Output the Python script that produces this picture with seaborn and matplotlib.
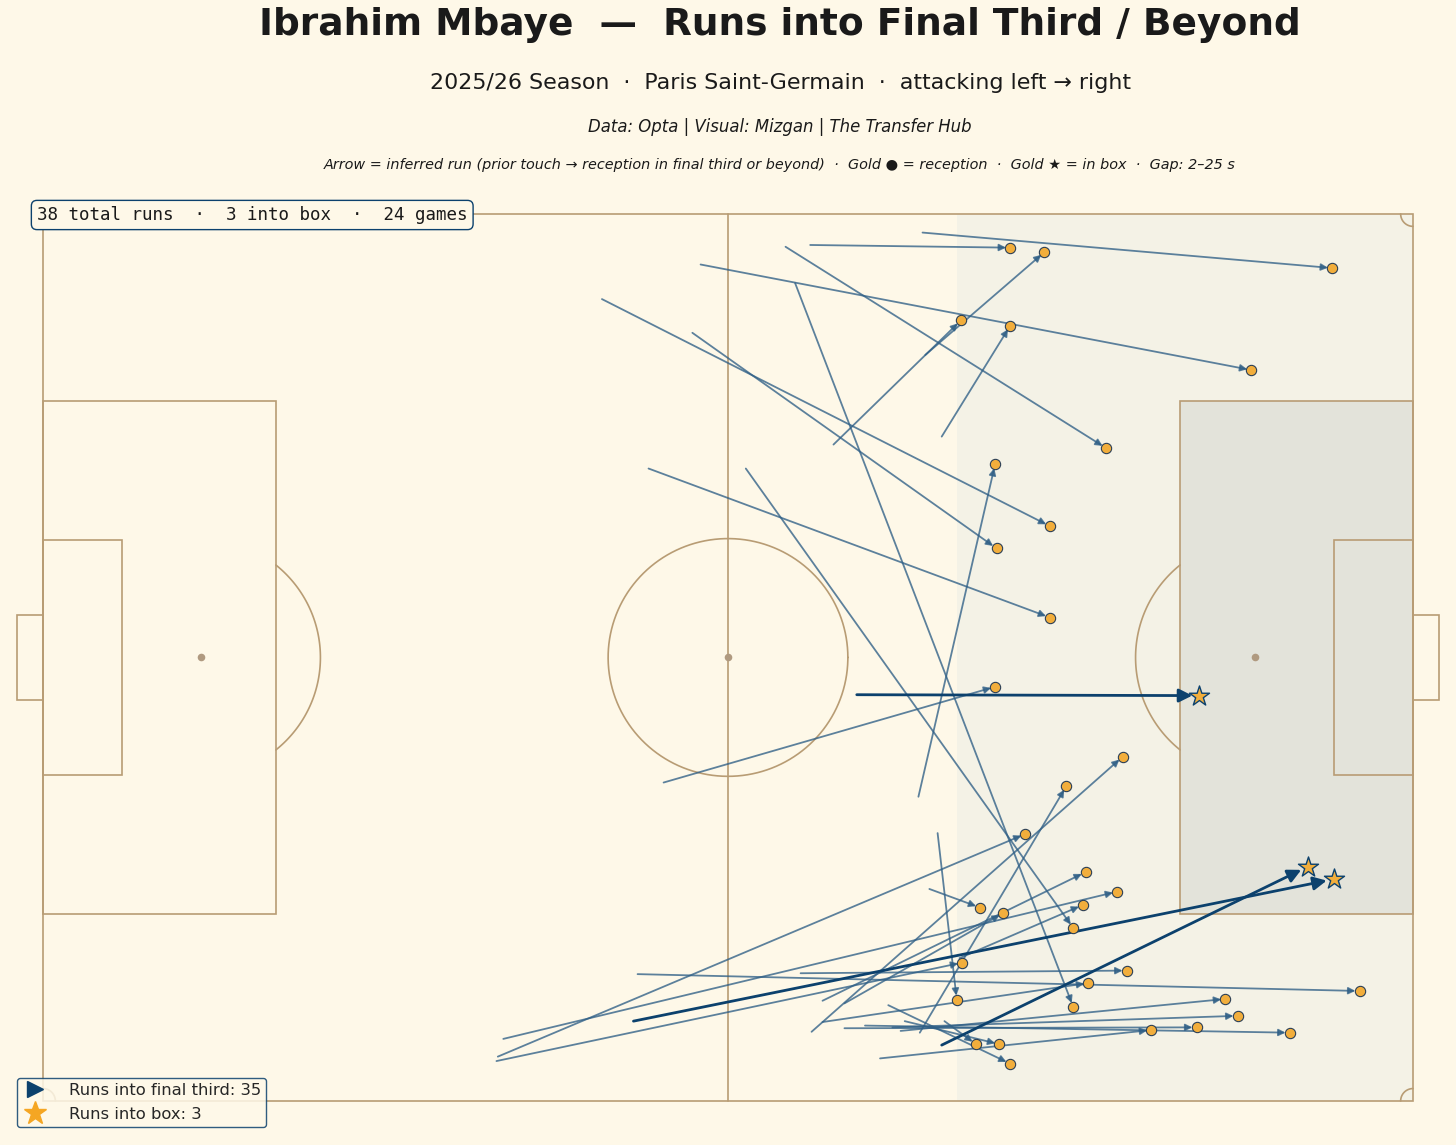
"""
Runs into the final third / beyond for one player, drawn on an Opta-style pitch.
"""
import numpy as np
import pandas as pd
import matplotlib
matplotlib.use('Agg')
import matplotlib.pyplot as plt
from matplotlib.patches import Rectangle
from matplotlib.lines import Line2D
import seaborn as sns

# Run start / end points (Opta 0-100 coords, attacking left -> right)
x_start = [56.0, 64.2, 54.2, 64.4, 57.7, 48.0, 65.6, 40.8, 47.4, 54.9, 51.3, 44.2, 63.9, 45.3,
           59.4, 43.1, 65.6,
           56.1, 64.0, 33.2, 33.6, 33.1, 56.9, 64.7, 58.5, 66.9, 65.3, 55.3, 56.9, 43.4,
           62.6, 62.0, 58.5, 61.1, 60.0, 65.8, 62.9, 61.7]
y_start = [96.5, 97.9, 96.3, 84.1, 74.0, 94.3, 74.9, 90.4, 86.6, 92.2, 71.3, 71.3, 34.3, 35.9,
           45.8, 9.0, 6.3,
           7.8, 7.7, 5.0, 7.0, 4.5, 11.3, 23.9, 11.0, 16.1, 30.2, 14.4, 8.9, 14.3,
           7.9, 8.3, 8.2, 4.8, 8.5, 9.0, 9.0, 10.8]
x_end = [70.6, 94.1, 77.6, 73.1, 67.0, 88.2, 70.6, 73.5, 69.6, 75.2, 75.2, 73.5, 69.5, 69.5,
         84.4, 94.2, 92.3,
         78.8, 74.7, 71.7, 78.4, 67.1, 76.1, 68.4, 70.1, 75.9, 66.7, 79.1, 76.3, 96.1,
         86.3, 87.2, 84.2, 80.9, 91.0, 68.1, 69.8, 70.6]
y_end = [96.2, 93.9, 73.6, 95.7, 88.0, 82.4, 87.4, 64.8, 62.3, 10.6, 19.5, 54.5, 71.8, 46.7,
         45.7, 25.0, 26.4,
         38.8, 35.5, 30.1, 23.6, 15.6, 25.8, 21.8, 21.2, 22.1, 11.4, 14.7, 13.3, 12.4,
         11.5, 9.6, 8.3, 8.0, 7.7, 6.4, 6.4, 4.2]
in_box = [False] * 14 + [True] * 3 + [False] * 21

n_games = 24

runs = pd.DataFrame({'x0': x_start, 'y0': y_start, 'x1': x_end, 'y1': y_end, 'box': in_box})

# Colours
BG = '#FEF8E8'
LINE = '#B89C74'
THIRD = '#F4F2E6'
BOX = '#E3E3DA'
RUN = '#2F5F86'
NAVY = '#0C416D'
GOLD = '#F2AE3C'
STAR = '#F5A623'
TEXT = '#1A1A1A'

sns.set_theme(style='white')
plt.rcParams['font.family'] = ['DejaVu Sans']

fig = plt.figure(figsize=(14.56, 11.45), dpi=100, facecolor=BG)
ax = fig.add_axes([0.01071, 0.0307, 0.97857, 0.7902])
ax.set_facecolor(BG)
ax.set_xlim(-2, 102)
ax.set_ylim(-1, 101)
ax.axis('off')

# --- pitch ---
lw = 1.2
ax.add_patch(Rectangle((66.7, 0), 33.3, 100, fc=THIRD, ec='none', zorder=0))
ax.add_patch(Rectangle((83, 21.1), 17, 57.8, fc=BOX, ec='none', zorder=0))

def rect(x, y, w, h):
    ax.add_patch(Rectangle((x, y), w, h, fill=False, ec=LINE, lw=lw, zorder=1))

rect(0, 0, 100, 100)
ax.plot([50, 50], [0, 100], color=LINE, lw=lw, zorder=1)
rect(0, 21.1, 17, 57.8)
rect(83, 21.1, 17, 57.8)
rect(0, 36.8, 5.8, 26.4)
rect(94.2, 36.8, 5.8, 26.4)
rect(-1.9, 45.2, 1.9, 9.6)
rect(100, 45.2, 1.9, 9.6)

# circles are drawn round in screen space: half-axes differ in data units
rx, ry = 8.75, 13.4
t = np.linspace(0, 2 * np.pi, 300)
ax.plot(50 + rx * np.cos(t), 50 + ry * np.sin(t), color=LINE, lw=lw, zorder=1)

ta = np.arccos((17 - 11.5) / rx)
t = np.linspace(-ta, ta, 100)
ax.plot(11.5 + rx * np.cos(t), 50 + ry * np.sin(t), color=LINE, lw=lw, zorder=1)
t = np.linspace(np.pi - ta, np.pi + ta, 100)
ax.plot(88.5 + rx * np.cos(t), 50 + ry * np.sin(t), color=LINE, lw=lw, zorder=1)

# corner arcs
cr_x, cr_y = 0.9, 1.4
for cx, cy, a0 in [(0, 0, 0), (100, 0, 90), (100, 100, 180), (0, 100, 270)]:
    t = np.radians(np.linspace(a0, a0 + 90, 30))
    ax.plot(cx + cr_x * np.cos(t), cy + cr_y * np.sin(t), color=LINE, lw=lw, zorder=1)

ax.scatter([11.5, 50, 88.5], [50, 50, 50], s=30, color='#B09A80', zorder=1, linewidths=0)

# --- runs ---
for r in runs.itertuples():
    if r.box:
        props = dict(arrowstyle='-|>', color=NAVY, lw=2.0, mutation_scale=20,
                     shrinkA=0, shrinkB=5)
        z = 4
    else:
        props = dict(arrowstyle='-|>', color=RUN, lw=1.3, mutation_scale=10,
                     shrinkA=0, shrinkB=3, alpha=0.78)
        z = 3
    ax.annotate('', xy=(r.x1, r.y1), xytext=(r.x0, r.y0), arrowprops=props, zorder=z)

sns.scatterplot(data=runs[~runs['box']], x='x1', y='y1', ax=ax, s=55, color=GOLD,
                edgecolor='#2B3F55', linewidth=0.8, zorder=5, legend=False)
sns.scatterplot(data=runs[runs['box']], x='x1', y='y1', ax=ax, s=230, marker='*',
                color=GOLD, edgecolor=NAVY, linewidth=1.0, zorder=6, legend=False)
ax.set_xlabel('')
ax.set_ylabel('')
ax.axis('off')

# --- text ---
cx = 780 / 1456
fig.text(cx, 0.978, 'Ibrahim Mbaye  —  Runs into Final Third / Beyond',
         ha='center', va='center', fontsize=27, fontweight='bold', color=TEXT)
fig.text(cx, 0.9275, '2025/26 Season  ·  Paris Saint-Germain  ·  attacking left → right',
         ha='center', va='center', fontsize=15.9, color=TEXT)
fig.text(cx, 0.889, 'Data: Opta | Visual: Mizgan | The Transfer Hub',
         ha='center', va='center', fontsize=11.9, style='italic', color=TEXT)
fig.text(cx, 0.856, 'Arrow = inferred run (prior touch → reception in final third or beyond)  ·  '
         'Gold ● = reception  ·  Gold ★ = in box  ·  Gap: 2–25 s',
         ha='center', va='center', fontsize=10.35, style='italic', color=TEXT)

n_box = int(runs['box'].sum())
fig.text(0.0254, 1 - 215 / 1145,
         f'{len(runs)} total runs  ·  {n_box} into box  ·  {n_games} games',
         ha='left', va='center', fontsize=12.65, family='DejaVu Sans Mono', color=TEXT,
         bbox=dict(boxstyle='round,pad=0.32', fc=BG, ec=NAVY, lw=1), zorder=10)

handles = [
    Line2D([], [], marker='>', color=NAVY, linestyle='none', markersize=12,
           label=f'Runs into final third: {len(runs) - n_box}'),
    Line2D([], [], marker='*', color=STAR, linestyle='none', markersize=17,
           label=f'Runs into box: {n_box}'),
]
leg = fig.legend(handles=handles, loc='lower left', bbox_to_anchor=(0.008, 0.0115),
                 fontsize=11.8, frameon=True, facecolor=BG, edgecolor=NAVY,
                 framealpha=0.85, handletextpad=1.3, borderpad=0.3, labelspacing=0.55,
                 handlelength=1.6, borderaxespad=0.3)
leg.get_frame().set_linewidth(1)

fig.savefig('out.png', dpi=100, facecolor=BG)
